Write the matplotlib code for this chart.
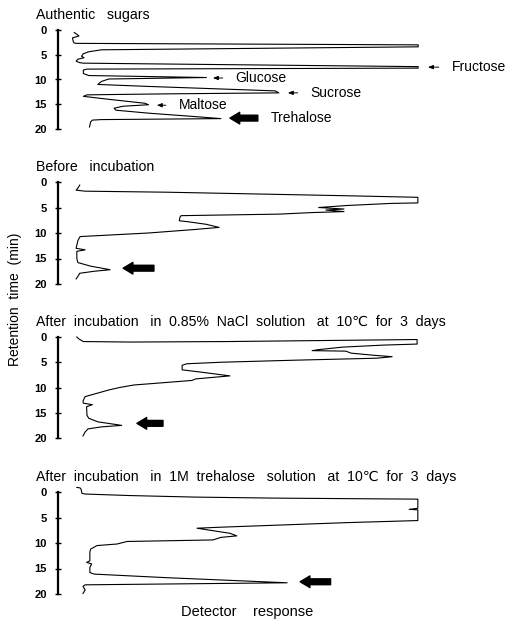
import matplotlib
matplotlib.use("Agg")
import matplotlib.pyplot as plt

plt.rcParams['font.family'] = ['Liberation Sans', 'DejaVu Sans']

# retention time (min) and detector response (arbitrary, 0-100)
t_sugars = [0.5, 1.2, 1.6, 2.3, 2.6, 2.7, 3.0, 3.4, 4.0, 4.4, 4.8, 5.3, 5.6, 5.9, 6.3, 6.6,
            6.7, 7.4, 7.7, 7.9, 8.1, 8.8, 9.2, 9.6, 9.9, 10.4, 11.0, 11.4, 12.3, 12.7, 12.9,
            13.1, 13.4, 14.0, 14.8, 15.1, 15.4, 15.8, 16.2, 16.8, 17.5, 17.9, 18.1, 18.2,
            18.6, 19.6]
r_sugars = [4.5, 5.8, 4.0, 4.2, 4.4, 5.0, 99.5, 99.5, 12.0, 8.5, 7.0, 6.5, 7.2, 5.5, 5.0, 6.0,
            7.0, 99.5, 99.5, 8.0, 7.0, 7.0, 8.5, 41.0, 14.0, 12.0, 11.0, 25.0, 60.0, 61.0, 30.0,
            8.0, 7.0, 14.0, 24.0, 25.0, 18.0, 15.5, 16.0, 25.0, 38.0, 45.0, 12.0, 9.5,
            9.0, 8.7]

t_before = [0.6, 1.2, 1.6, 1.8, 2.0, 2.7, 3.0, 4.1, 4.2, 4.6, 5.0, 5.3, 5.5, 5.8, 6.0, 6.3,
            6.6, 6.9, 7.6, 7.8, 8.3, 8.9, 9.3, 10.0, 10.7, 11.5, 13.0, 13.3, 13.6, 15.0,
            15.8, 16.5, 17.2, 17.5, 17.9, 18.5, 19.0]
r_before = [6.0, 5.5, 5.0, 7.5, 30.0, 80.0, 99.4, 99.4, 92.0, 80.0, 72.0, 79.0, 74.0, 79.0, 70.0, 61.0,
            34.0, 33.7, 33.5, 36.0, 41.0, 44.5, 38.0, 25.0, 6.1, 5.5, 5.0, 7.5, 5.2, 5.2,
            5.5, 9.0, 14.4, 10.0, 6.0, 5.5, 5.0]

t_nacl = [0.0, 0.4, 0.9, 1.0, 0.9, 0.5, 1.4, 1.6, 2.0, 2.5, 2.7, 2.8, 3.2, 3.6, 3.9, 4.2,
          4.6, 5.0, 5.3, 5.6, 6.5, 7.0, 7.7, 8.3, 8.6, 9.0, 9.5, 10.0, 10.5, 11.2, 11.8,
          12.7, 13.1, 13.4, 13.8, 15.5, 16.1, 16.8, 17.5, 17.8, 18.2, 18.8, 19.6]
r_nacl = [5.2, 5.8, 7.0, 20.0, 47.0, 99.2, 99.2, 90.0, 78.7, 72.0, 70.2, 79.5, 81.0, 87.0, 92.3, 88.0,
          65.0, 45.0, 35.6, 34.3, 34.3, 40.0, 47.5, 38.0, 37.0, 30.0, 21.0, 17.0, 14.0, 10.5, 7.5,
          6.9, 7.0, 9.5, 7.9, 8.0, 8.5, 11.0, 17.6, 12.0, 8.3, 7.5, 6.9]

t_treh = [-0.9, -0.8, -0.5, 0.25, 0.4, 0.7, 1.0, 1.2, 1.4, 3.2, 3.4, 3.5, 5.6, 6.0, 6.9, 7.1,
          8.1, 8.6, 8.9, 9.4, 9.7, 10.2, 10.5, 11.2, 11.8, 13.5, 13.8, 14.1, 14.8, 15.8,
          16.1, 16.8, 17.8, 18.2, 18.5, 19.2, 19.9]
r_treh = [5.2, 6.1, 6.4, 6.6, 7.5, 20.0, 38.0, 60.0, 99.4, 99.4, 97.0, 99.4, 99.4, 80.0, 45.0, 38.4,
          47.5, 49.4, 45.0, 42.8, 19.1, 16.3, 10.8, 9.0, 8.8, 8.8, 7.9, 9.3, 8.8, 8.8,
          10.0, 30.0, 63.3, 7.5, 6.9, 7.5, 6.9]

titles = ["Authentic   sugars",
          "Before   incubation",
          "After  incubation   in  0.85%  NaCl  solution   at  10\u2103  for  3  days",
          "After  incubation   in  1M  trehalose   solution   at  10\u2103  for  3  days"]
traces = [(t_sugars, r_sugars), (t_before, r_before), (t_nacl, r_nacl), (t_treh, r_treh)]

# peak names in the first panel: (name, time, arrow tip, arrow tail)
sugar_names = ["Fructose", "Glucose", "Sucrose", "Maltose", "Trehalose"]
sugar_times = [7.5, 9.7, 12.7, 15.2, 17.8]
sugar_tips = [102.2, 42.8, 63.5, 27.3, 47.5]
sugar_tails = [105.2, 45.5, 66.2, 29.8, 55.2]

# thick trehalose arrows in the other panels
treh_times = [16.9, 17.1, 17.6]
treh_tips = [18.0, 21.8, 66.9]
treh_tails = [26.5, 29.0, 75.3]

W, H = 506, 619
# pixel rows of the 0 and 20 ticks for each panel
y0_px = [30, 182, 337, 492]
y20_px = [129, 284, 438, 594]
left_px, right_px = 58, 420

fig = plt.figure(figsize=(W / 100, H / 100), dpi=100)

axes = []
for i in range(4):
    s = (y20_px[i] - y0_px[i]) / 20
    top = y0_px[i] - 1.5 * s
    bot = y20_px[i] + 0.5 * s
    ax = fig.add_axes([left_px / W, 1 - bot / H, (right_px - left_px) / W, (bot - top) / H])
    ax.set_ylim(20.5, -1.5)
    ax.set_xlim(0, 100)
    t, r = traces[i]
    ax.plot(r, t, color='black', lw=0.8, clip_on=False)

    for side in ['top', 'right', 'bottom']:
        ax.spines[side].set_visible(False)
    ax.spines['left'].set_bounds(0, 20)
    ax.spines['left'].set_linewidth(1.6)
    ax.set_xticks([])
    ax.set_yticks([0, 5, 10, 15, 20])
    ax.tick_params(axis='y', direction='inout', length=4, width=1, pad=6, labelsize=8)
    for lab in ax.get_yticklabels():
        lab.set_fontweight('bold')
    ax.patch.set_alpha(0)

    fig.text(36 / W, 1 - (y0_px[i] - 15) / H, titles[i], fontsize=10.2, va='center', ha='left')
    axes.append(ax)

ax1 = axes[0]
for name, tm, tip, tail in zip(sugar_names, sugar_times, sugar_tips, sugar_tails):
    if name == "Trehalose":
        ax1.annotate("", xy=(tip, tm), xytext=(tail, tm), annotation_clip=False,
                     arrowprops=dict(arrowstyle="simple,head_length=0.5,head_width=0.6,tail_width=0.3",
                                     mutation_scale=14, color='black', shrinkA=0, shrinkB=0))
    else:
        ax1.annotate("", xy=(tip, tm), xytext=(tail, tm), annotation_clip=False,
                     arrowprops=dict(arrowstyle="-|>,head_length=0.5,head_width=0.2",
                                     mutation_scale=6, color='black', lw=0.7, shrinkA=0, shrinkB=0))
    ax1.text(tail + 3.6, tm, name, fontsize=10, va='center', ha='left', clip_on=False)

for ax, tm, tip, tail in zip(axes[1:], treh_times, treh_tips, treh_tails):
    ax.annotate("", xy=(tip, tm), xytext=(tail, tm), annotation_clip=False,
                arrowprops=dict(arrowstyle="simple,head_length=0.5,head_width=0.6,tail_width=0.3",
                                mutation_scale=14, color='black', shrinkA=0, shrinkB=0))

fig.text(15 / W, 1 - 299 / H, "Retention  time  (min)", rotation=90, fontsize=10,
         va='center', ha='center')
fig.text(247 / W, 1 - 612 / H, "Detector    response", fontsize=10.5, va='center', ha='center')

fig.savefig("out.png", dpi=100)
